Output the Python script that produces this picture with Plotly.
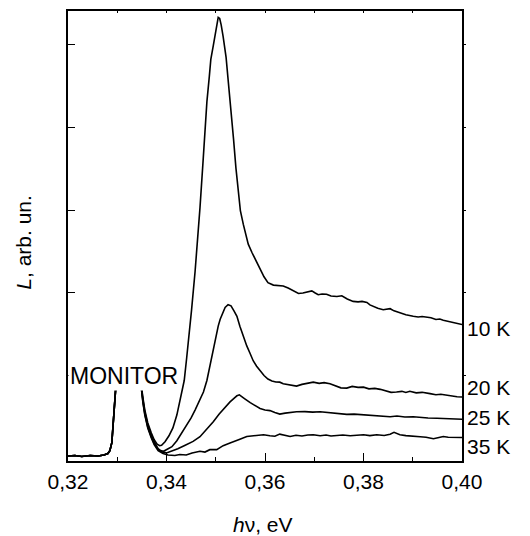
import plotly.graph_objects as go

# ---- data (photon energy in eV, luminescence in arb. units) ----
# common part: baseline + MONITOR line (left flank and top)
monitor_x = [0.3200, 0.3214, 0.3228, 0.3245, 0.3261, 0.3273, 0.3281, 0.3285, 0.3289,
             0.3292, 0.3295, 0.3298, 0.3302, 0.3310, 0.3326, 0.3342, 0.3345]
monitor_y = [0.027, 0.033, 0.021, 0.033, 0.027, 0.039, 0.057, 0.093, 0.188,
             0.403, 0.666, 0.940, 1.096, 1.131, 1.143, 1.131, 1.060]

x_10K = [0.3348, 0.3352, 0.3356, 0.3362, 0.3369, 0.3375, 0.3381, 0.3386, 0.3390, 0.3397,
         0.3405, 0.3413, 0.3421, 0.3427, 0.3431, 0.3436, 0.3441, 0.3446, 0.3451, 0.3458,
         0.3462, 0.3468, 0.3474, 0.3478, 0.3482, 0.3487, 0.3490, 0.3495, 0.3500, 0.3503,
         0.3505, 0.3508, 0.3511, 0.3515, 0.3521, 0.3525, 0.3531, 0.3536, 0.3541, 0.3546,
         0.3550, 0.3556, 0.3561, 0.3566, 0.3574, 0.3583, 0.3590, 0.3598, 0.3606, 0.3617,
         0.3626, 0.3637, 0.3647, 0.3657, 0.3668, 0.3677, 0.3687, 0.3695, 0.3702, 0.3708,
         0.3716, 0.3725, 0.3734, 0.3746, 0.3756, 0.3767, 0.3779, 0.3789, 0.3797, 0.3807,
         0.3813, 0.3820, 0.3829, 0.3840, 0.3848, 0.3854, 0.3862, 0.3874, 0.3886, 0.3901,
         0.3911, 0.3919, 0.3928, 0.3937, 0.3947, 0.3955, 0.3962, 0.3972, 0.3982, 0.3990,
         0.4000]
y_10K = [0.905, 0.737, 0.582, 0.427, 0.308, 0.224, 0.170, 0.152, 0.158, 0.200,
         0.272, 0.367, 0.522, 0.678, 0.797, 0.940, 1.215, 1.478, 1.800, 2.254,
         2.552, 3.030, 3.567, 3.949, 4.307, 4.618, 4.821, 4.988, 5.179, 5.286,
         5.328, 5.316, 5.239, 5.096, 4.845, 4.582, 4.224, 3.866, 3.507, 3.197,
         2.994, 2.827, 2.696, 2.588, 2.481, 2.361, 2.290, 2.194, 2.122, 2.093,
         2.090, 2.083, 2.057, 2.021, 1.991, 1.997, 2.015, 2.023, 1.997, 1.976,
         1.985, 1.983, 1.961, 1.955, 1.964, 1.925, 1.896, 1.890, 1.896, 1.884,
         1.854, 1.836, 1.812, 1.796, 1.802, 1.808, 1.782, 1.756, 1.734, 1.716,
         1.708, 1.713, 1.704, 1.699, 1.678, 1.683, 1.669, 1.657, 1.645, 1.627,
         1.617]

x_20K = [0.3348, 0.3352, 0.3356, 0.3362, 0.3369, 0.3375, 0.3383, 0.3388, 0.3394, 0.3401,
         0.3411, 0.3421, 0.3431, 0.3441, 0.3450, 0.3458, 0.3466, 0.3475, 0.3482, 0.3488,
         0.3495, 0.3501, 0.3505, 0.3509, 0.3514, 0.3519, 0.3525, 0.3531, 0.3537, 0.3543,
         0.3549, 0.3555, 0.3563, 0.3570, 0.3576, 0.3583, 0.3590, 0.3598, 0.3606, 0.3614,
         0.3622, 0.3630, 0.3637, 0.3651, 0.3664, 0.3675, 0.3687, 0.3698, 0.3710, 0.3720,
         0.3732, 0.3744, 0.3754, 0.3766, 0.3777, 0.3789, 0.3800, 0.3811, 0.3823, 0.3834,
         0.3846, 0.3856, 0.3867, 0.3878, 0.3886, 0.3894, 0.3907, 0.3919, 0.3935, 0.3947,
         0.3957, 0.3969, 0.3980, 0.3990, 0.4000]
y_20K = [0.881, 0.713, 0.558, 0.403, 0.284, 0.200, 0.116, 0.093, 0.084, 0.104,
         0.140, 0.212, 0.308, 0.403, 0.487, 0.582, 0.690, 0.801, 0.940, 1.119,
         1.319, 1.490, 1.597, 1.681, 1.764, 1.824, 1.856, 1.842, 1.782, 1.716,
         1.597, 1.490, 1.358, 1.263, 1.179, 1.113, 1.054, 1.000, 0.958, 0.934,
         0.922, 0.920, 0.901, 0.887, 0.872, 0.893, 0.910, 0.920, 0.905, 0.914,
         0.901, 0.875, 0.851, 0.848, 0.869, 0.857, 0.860, 0.839, 0.845, 0.833,
         0.815, 0.797, 0.801, 0.809, 0.795, 0.809, 0.791, 0.797, 0.781, 0.767,
         0.773, 0.761, 0.755, 0.743, 0.741]

x_25K = [0.3348, 0.3352, 0.3356, 0.3362, 0.3369, 0.3375, 0.3383, 0.3391, 0.3400, 0.3411,
         0.3423, 0.3438, 0.3454, 0.3468, 0.3482, 0.3495, 0.3507, 0.3519, 0.3529, 0.3537,
         0.3543, 0.3548, 0.3553, 0.3559, 0.3570, 0.3580, 0.3590, 0.3600, 0.3610, 0.3620,
         0.3630, 0.3641, 0.3651, 0.3664, 0.3681, 0.3697, 0.3712, 0.3728, 0.3742, 0.3754,
         0.3766, 0.3781, 0.3797, 0.3813, 0.3829, 0.3842, 0.3854, 0.3868, 0.3884, 0.3901,
         0.3915, 0.3931, 0.3949, 0.3963, 0.3976, 0.3988, 0.4000]
y_25K = [0.869, 0.690, 0.534, 0.379, 0.260, 0.176, 0.104, 0.075, 0.065, 0.087,
         0.116, 0.158, 0.204, 0.260, 0.349, 0.442, 0.534, 0.618, 0.681, 0.725,
         0.755, 0.767, 0.749, 0.719, 0.672, 0.636, 0.602, 0.584, 0.576, 0.552,
         0.534, 0.546, 0.555, 0.562, 0.564, 0.558, 0.562, 0.552, 0.544, 0.540,
         0.531, 0.534, 0.525, 0.522, 0.513, 0.504, 0.502, 0.510, 0.498, 0.502,
         0.493, 0.487, 0.483, 0.481, 0.475, 0.472, 0.471]

x_35K = [0.3348, 0.3352, 0.3356, 0.3362, 0.3369, 0.3375, 0.3383, 0.3393, 0.3403, 0.3417,
         0.3427, 0.3440, 0.3452, 0.3468, 0.3478, 0.3488, 0.3502, 0.3515, 0.3529, 0.3539,
         0.3549, 0.3563, 0.3574, 0.3586, 0.3597, 0.3610, 0.3620, 0.3630, 0.3641, 0.3651,
         0.3663, 0.3675, 0.3687, 0.3698, 0.3712, 0.3724, 0.3734, 0.3746, 0.3758, 0.3773,
         0.3785, 0.3800, 0.3813, 0.3827, 0.3842, 0.3854, 0.3862, 0.3867, 0.3874, 0.3886,
         0.3901, 0.3915, 0.3927, 0.3942, 0.3951, 0.3962, 0.3972, 0.3986, 0.4000]
y_35K = [0.857, 0.678, 0.522, 0.367, 0.248, 0.164, 0.093, 0.057, 0.039, 0.033,
         0.045, 0.039, 0.063, 0.084, 0.075, 0.104, 0.104, 0.152, 0.184, 0.212,
         0.230, 0.263, 0.272, 0.278, 0.284, 0.272, 0.266, 0.292, 0.272, 0.263,
         0.278, 0.269, 0.281, 0.284, 0.272, 0.281, 0.269, 0.275, 0.281, 0.272,
         0.278, 0.284, 0.274, 0.284, 0.276, 0.290, 0.313, 0.304, 0.284, 0.274,
         0.263, 0.260, 0.254, 0.236, 0.248, 0.263, 0.254, 0.257, 0.251]

series_names = ["10 K", "20 K", "25 K", "35 K"]
series_x = [x_10K, x_20K, x_25K, x_35K]
series_y = [y_10K, y_20K, y_25K, y_35K]
label_y = [1.573, 0.860, 0.490, 0.144]   # vertical position of the right-hand labels

x_tickvals = [0.32, 0.34, 0.36, 0.38, 0.40]
x_ticktext = ["0,32", "0,34", "0,36", "0,38", "0,40"]
y_tickvals = [1, 2, 3, 4, 5]

X_RANGE = [0.32, 0.40]
Y_RANGE = [-0.033, 5.406]

FONT = "Liberation Sans, Arial, Helvetica, sans-serif"

fig = go.Figure()
for name, xs, ys in zip(series_names, series_x, series_y):
    fig.add_trace(go.Scatter(
        x=monitor_x + xs, y=monitor_y + ys, mode="lines", name=name,
        line=dict(color="black", width=1.6), showlegend=False, hoverinfo="skip"))

axis_common = dict(showline=True, linecolor="black", linewidth=1.5,
                   showgrid=False, zeroline=False, mirror=False)

fig.update_layout(
    width=530, height=536,
    margin=dict(l=68, r=68, t=11, b=75),
    paper_bgcolor="white", plot_bgcolor="white",
    font=dict(family=FONT, color="black"),
    xaxis=dict(range=X_RANGE, tickvals=x_tickvals, ticktext=x_ticktext,
               ticks="inside", ticklen=8, tickwidth=1.3, tickcolor="black",
               minor=dict(dtick=0.01, ticks="inside", ticklen=4, tickwidth=1.3, tickcolor="black"),
               tickfont=dict(size=21, family=FONT), ticklabelstandoff=1,
               **axis_common),
    xaxis2=dict(range=X_RANGE, overlaying="x", side="top", anchor="y",
                dtick=0.01, tick0=0.32, ticks="inside", ticklen=2, tickwidth=1.3, tickcolor="black",
                showticklabels=False, **axis_common),
    yaxis=dict(range=Y_RANGE, tickvals=y_tickvals, ticks="inside", ticklen=7,
               tickwidth=1.3, tickcolor="black", showticklabels=False, **axis_common),
    yaxis2=dict(range=Y_RANGE, overlaying="y", side="right", anchor="x",
                tickvals=y_tickvals, ticks="outside", ticklen=2, tickwidth=1.3, tickcolor="black",
                showticklabels=False, **axis_common),
)

# invisible helper traces so the top/right axes get drawn
fig.add_trace(go.Scatter(x=[None], y=[None], xaxis="x2", yaxis="y", showlegend=False, hoverinfo="skip"))
fig.add_trace(go.Scatter(x=[None], y=[None], xaxis="x", yaxis="y2", showlegend=False, hoverinfo="skip"))

# right-hand temperature labels
for name, ly in zip(series_names, label_y):
    fig.add_annotation(x=1, xref="paper", y=ly, yref="y", text=name, showarrow=False,
                       xanchor="left", yanchor="middle", xshift=3,
                       font=dict(size=21, family=FONT, color="black"))

# MONITOR label with white background hiding the monitor line top
fig.add_annotation(x=0, xref="paper", y=1.0, yref="y", text="MONITOR", showarrow=False,
                   xanchor="left", yanchor="middle", xshift=0,
                   bgcolor="white", borderpad=1,
                   font=dict(size=23, family=FONT, color="black"))

# axis titles
fig.add_annotation(x=-0.112, xref="paper", y=0.487, yref="paper", text="<i>L</i>, arb. un.",
                   showarrow=False, textangle=-90, xanchor="center", yanchor="middle",
                   font=dict(size=21, family=FONT, color="black"))
fig.add_annotation(x=0.495, xref="paper", y=-0.142, yref="paper", text="<i>h</i>ν, eV",
                   showarrow=False, xanchor="center", yanchor="middle",
                   font=dict(size=21, family=FONT, color="black"))

fig.write_html("out.html",
               config={"displayModeBar": False},
               post_script="document.body.style.margin='0';document.body.style.padding='0';")
